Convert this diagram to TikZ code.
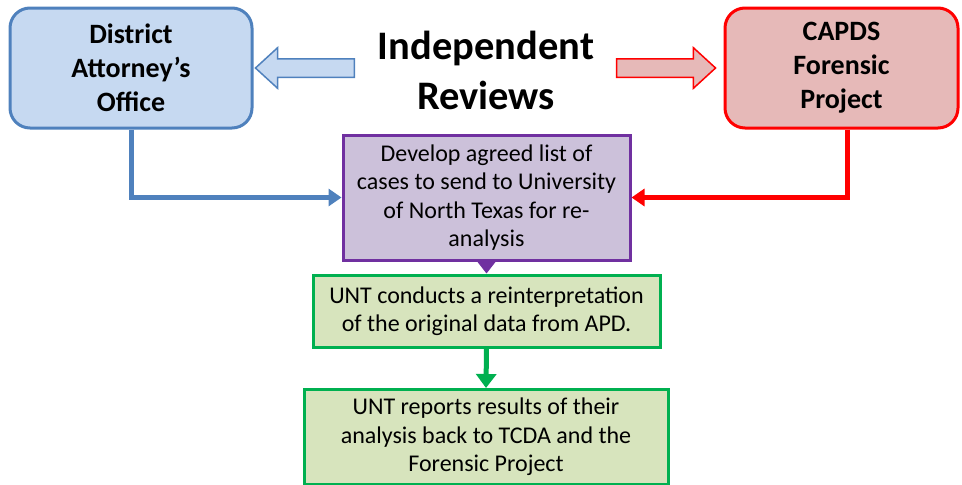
\documentclass[tikz,border=0pt]{standalone}
\usepackage{fontspec}
\setmainfont{Carlito}
\usetikzlibrary{arrows.meta,shapes.arrows}
\definecolor{dablue}{HTML}{4F81BD}
\definecolor{dafill}{HTML}{C6D9F1}
\definecolor{capred}{HTML}{FF0000}
\definecolor{capfill}{HTML}{E6B9B8}
\definecolor{devpurple}{HTML}{7030A0}
\definecolor{devfill}{HTML}{CCC1DA}
\definecolor{untgreen}{HTML}{00B050}
\definecolor{untfill}{HTML}{D7E4BD}
\tikzset{
  party/.style={rectangle,rounded corners=20pt,line width=3pt,align=center,
    font=\fontsize{28}{34}\selectfont\bfseries},
  stepbox/.style={rectangle,line width=3pt,align=center,
    font=\fontsize{24}{28.5}\selectfont},
  hollow/.style={single arrow,line width=1.5pt,minimum height=99pt,
    text height=17pt,text depth=0pt,text width=0pt,
    minimum width=39pt,single arrow head extend=11pt,inner sep=0pt,
    single arrow tip angle=85},
  feed/.style={line width=5pt,-{Triangle[length=13pt,width=17pt]}}
}

\begin{document}
\begin{tikzpicture}[x=1pt,y=-1pt]
\useasboundingbox (0,0) rectangle (962,485);
% the two reviewing parties
\node (da) [party,draw=dablue,fill=dafill,minimum width=242pt,minimum height=120pt] at (131,68) {District\\Attorney’s\\Office};
\node (cap) [party,draw=capred,fill=capfill,minimum width=233pt,minimum height=120pt] at (841.5,68) {CAPDS\\Forensic\\Project};
\node (title) [align=center,font=\fontsize{40.5}{50}\selectfont\bfseries] at (486,70) {Independent\\Reviews};
\node (arrl) [hollow,draw=dablue,fill=dafill,shape border rotate=180] at (310,68) {};
\node (arrr) [hollow,draw=capred,fill=capfill] at (661,68) {};
% the steps
\node (dev) [stepbox,draw=devpurple,fill=devfill,minimum width=287pt,minimum height=125pt] at (486.5,197.5) {Develop agreed list of\\cases to send to University\\of North Texas for re-\\analysis};
\node (unt1) [stepbox,draw=untgreen,fill=untfill,minimum width=347pt,minimum height=72pt] at (486.5,311) {UNT conducts a reinterpretation\\of the original data from APD.};
\node (unt2) [stepbox,draw=untgreen,fill=untfill,minimum width=364pt,minimum height=95pt] at (486,437) {UNT reports results of their\\analysis back to TCDA and the\\Forensic Project};
%
\draw[feed,dablue] (da.south) |- (dev.west);
\draw[feed,capred] ([xshift=6pt]cap.south) |- (dev.east);
\draw[-{Triangle[length=13pt,width=20pt]},line width=1pt,devpurple] (dev.south) -- (unt1.north);
\draw[feed,untgreen,-{Triangle[length=14pt,width=20pt]}] (unt1.south) -- (unt2.north);
\end{tikzpicture}
\end{document}
